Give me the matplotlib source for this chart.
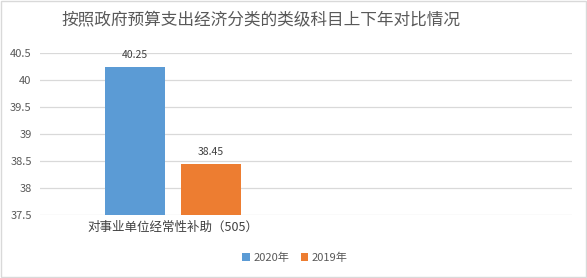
import matplotlib
matplotlib.use("Agg")
import matplotlib.pyplot as plt
from matplotlib.patches import Rectangle, Patch
from matplotlib.ticker import FuncFormatter

plt.rcParams['font.family'] = ['Noto Sans CJK SC', 'DejaVu Sans']

# 数据
categories = ['对事业单位经常性补助（505）', '']
series_names = ['2020年', '2019年']
values_2020 = [40.25]
values_2019 = [38.45]
colors = ['#5b9bd5', '#ed7d31']

fig = plt.figure(figsize=(5.87, 2.78), dpi=100)
ax = fig.add_axes([40/587, 1 - 215/278, 532/587, 162/278])

w = 0.2256
off = 0.1429
base = 37.5
b1 = ax.bar([0 - off], [v - base for v in values_2020], width=w, bottom=base,
            color=colors[0], zorder=3)
b2 = ax.bar([0 + off], [v - base for v in values_2019], width=w, bottom=base,
            color=colors[1], zorder=3)

for bars, vals in ((b1, values_2020), (b2, values_2019)):
    for rect, v in zip(bars, vals):
        ax.text(rect.get_x() + rect.get_width() / 2, v + 0.12, f'{v:.2f}',
                ha='center', va='bottom', fontsize=7.5, color='#404040')

ax.set_xlim(-0.5, 1.5)
ax.set_ylim(37.5, 40.5)
ax.set_yticks([37.5, 38, 38.5, 39, 39.5, 40, 40.5])
ax.yaxis.set_major_formatter(FuncFormatter(lambda v, p: f'{v:g}'))
ax.set_xticks([0, 1])
ax.set_xticklabels(categories, fontsize=9, color='#404040')
ax.tick_params(axis='y', length=0, labelsize=8, labelcolor='#595959', pad=6)
ax.tick_params(axis='x', length=0, pad=4)
ax.grid(axis='y', color='#d9d9d9', linewidth=0.9, zorder=0)
for s in ax.spines.values():
    s.set_visible(False)

fig.text(261/587, 1 - 21/278, '按照政府预算支出经济分类的类级科目上下年对比情况',
         ha='center', va='center', fontsize=12, color='#595959')

handles = [Patch(facecolor=c, edgecolor='none') for c in colors]
fig.legend(handles, series_names, loc='center', bbox_to_anchor=(295/587, 1 - 258/278),
           ncol=2, frameon=False, fontsize=8, handlelength=0.7, handleheight=0.7,
           handletextpad=0.3, columnspacing=1.0, labelcolor='#595959')

fig.patches.append(Rectangle((0.001, 0.002), 0.997, 0.996, transform=fig.transFigure,
                             fill=False, edgecolor='#d9d9d9', linewidth=1))

fig.savefig('out.png', dpi=100)
